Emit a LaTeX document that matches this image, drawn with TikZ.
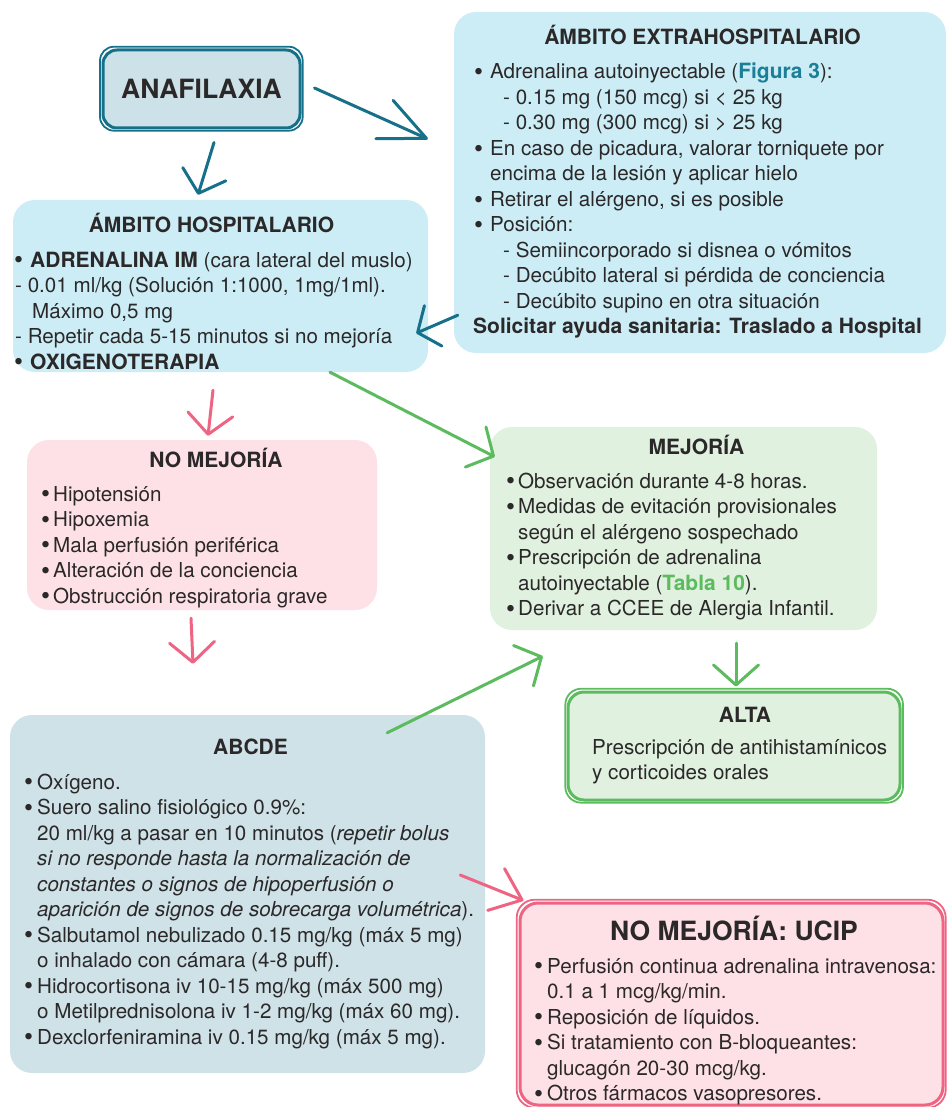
\documentclass[tikz,border=0pt]{standalone}
\usepackage{fontspec}
\usepackage{graphicx}
\setmainfont{TeX Gyre Heros}
\usetikzlibrary{arrows.meta}
\definecolor{tealline}{HTML}{17708A}
\definecolor{tealtext}{HTML}{1B7F97}
\definecolor{anafill}{HTML}{CDE1E8}
\definecolor{cyanfill}{HTML}{CCEDF6}
\definecolor{abcfill}{HTML}{CFE2E8}
\definecolor{pinkline}{HTML}{EE6483}
\definecolor{pinkfill}{HTML}{FDE1E6}
\definecolor{greenline}{HTML}{5CBB5E}
\definecolor{greenfill}{HTML}{E0F1DF}
\definecolor{ink}{HTML}{2B2829}
\newcommand{\mybul}[1]{\makebox[#1][l]{\hspace*{-1pt}\raisebox{-1.8pt}{\scalebox{1.25}{\textbullet}}}}
\newcommand{\myind}[1]{\hspace*{#1}}
\newcommand{\bfx}{\fontsize{21}{25.5}\selectfont\bfseries}
\tikzset{
  blob/.style={rectangle, inner sep=0pt, rounded corners=22pt},
  txt/.style={anchor=base west, inner sep=0pt, text=ink, font=\fontsize{20.6}{25.5}\selectfont},
  tit/.style={anchor=base, inner sep=0pt, text=ink, font=\fontsize{21}{24}\selectfont\bfseries},
  arr/.style={line width=3pt, line cap=round, -{Straight Barb[length=20pt,width=45pt,line width=3pt,round]}},
}
\begin{document}
\begin{tikzpicture}[x=1pt,y=-1pt]
\useasboundingbox (0,0) rectangle (949,1107);

% ---------- boxes ----------
\node[blob, fill=cyanfill, minimum width=492pt, minimum height=341pt] (extra) at (700,182.5) {};
\node[blob, fill=cyanfill, minimum width=415pt, minimum height=172pt] (hosp) at (220.5,286) {};
\node[blob, fill=pinkfill, minimum width=350pt, minimum height=170pt] (nomej) at (202,525) {};
\node[blob, fill=greenfill, minimum width=387pt, minimum height=203pt] (mej) at (683.5,528.5) {};
\node[blob, fill=abcfill, minimum width=475pt, minimum height=358pt] (abcde) at (247.5,894) {};

\node[rectangle, rounded corners=14pt, draw=tealline, line width=3pt, fill=anafill,
      minimum width=197pt, minimum height=78pt, inner sep=0pt, text=ink,
      font=\fontsize{26.5}{30}\selectfont\bfseries] (ana) at (201.5,89) {ANAFILAXIA};
\draw[tealline, line width=1.8pt, rounded corners=14pt]
  ([shift={(-1.5,-1.8)}]ana.north west) rectangle ([shift={(1.2,1.2)}]ana.south east);

\node[rectangle, rounded corners=16pt, draw=greenline, line width=3pt, fill=greenfill,
      minimum width=332pt, minimum height=108pt, inner sep=0pt] (alta) at (734,746) {};
\draw[greenline, line width=1.8pt, rounded corners=16pt]
  ([shift={(-1.2,-1.8)}]alta.north west) rectangle ([shift={(1.5,1.2)}]alta.south east);

\node[rectangle, rounded corners=18pt, draw=pinkline, line width=3pt, fill=pinkfill,
      minimum width=423pt, minimum height=202pt, inner sep=0pt] (ucip) at (731.5,1004) {};
\draw[pinkline, line width=1.8pt, rounded corners=18pt]
  ([shift={(-1.8,-1.8)}]ucip.north west) rectangle ([shift={(1.2,1.2)}]ucip.south east);

% ---------- texts ----------
\node[tit] (extraT) at (702.5,45) {ÁMBITO EXTRAHOSPITALARIO};
\node[txt] (extraB) at (475,79) {\parbox[t]{470pt}{\raggedright
\mybul{15pt}Adrenalina autoinyectable ({\bfx\color{tealtext}Figura 3}):\\
\myind{28pt}- 0.15 mg (150 mcg) si < 25 kg\\
\myind{28pt}- 0.30 mg (300 mcg) si > 25 kg\\
\mybul{15pt}En caso de picadura, valorar torniquete por\\
\myind{15pt}encima de la lesión y aplicar hielo\\
\mybul{15pt}Retirar el alérgeno, si es posible\\
\mybul{15pt}Posición:\\
\myind{28pt}- Semiincorporado si disnea o vómitos\\
\myind{28pt}- Decúbito lateral si pérdida de conciencia\\
\myind{28pt}- Decúbito supino en otra situación\\
\myind{-2pt}{\bfx Solicitar ayuda sanitaria: Traslado a Hospital}}};

\node[tit] (hospT) at (211.5,233) {ÁMBITO HOSPITALARIO};
\node[txt] (hospB) at (15,267) {\parbox[t]{410pt}{\raggedright
\mybul{15pt}{\bfx ADRENALINA IM} (cara lateral del muslo)\\
- 0.01 ml/kg (Solución 1:1000, 1mg/1ml).\\
\myind{17pt}Máximo 0,5 mg\\
- Repetir cada 5-15 minutos si no mejoría\\
\mybul{15pt}{\bfx OXIGENOTERAPIA}}};

\node[tit] (nomejT) at (216,467) {NO MEJORÍA};
\node[txt] (nomejB) at (42,501) {\parbox[t]{330pt}{\raggedright
\mybul{11pt}Hipotensión\\
\mybul{11pt}Hipoxemia\\
\mybul{11pt}Mala perfusión periférica\\
\mybul{11pt}Alteración de la conciencia\\
\mybul{11pt}Obstrucción respiratoria grave}};

\node[tit] (mejT) at (696.5,454) {MEJORÍA};
\node[txt] (mejB) at (507,488) {\parbox[t]{370pt}{\raggedright
\mybul{11pt}Observación durante 4-8 horas.\\
\mybul{11pt}Medidas de evitación provisionales\\
\myind{11pt}según el alérgeno sospechado\\
\mybul{11pt}Prescripción de adrenalina\\
\myind{11pt}autoinyectable ({\bfx\color{greenline}Tabla 10}).\\
\mybul{11pt}Derivar a CCEE de Alergia Infantil.}};

\node[tit] (altaT) at (745,722) {ALTA};
\node[txt] (altaB) at (592,754) {\parbox[t]{310pt}{\raggedright
Prescripción de antihistamínicos\\
y corticoides orales}};

\node[tit] (abcdeT) at (250.5,754) {ABCDE};
\node[txt] (abcdeB) at (25,789) {\parbox[t]{460pt}{\raggedright
\mybul{12pt}Oxígeno.\\
\mybul{12pt}Suero salino fisiológico 0.9\%:\\
\myind{12pt}20 ml/kg a pasar en 10 minutos (\textit{repetir bolus}\\
\myind{12pt}\textit{si no responde hasta la normalización de}\\
\myind{12pt}\textit{constantes o signos de hipoperfusión o}\\
\myind{12pt}\textit{aparición de signos de sobrecarga volumétrica}).\\
\mybul{12pt}Salbutamol nebulizado 0.15 mg/kg (máx 5 mg)\\
\myind{12pt}o inhalado con cámara (4-8 puff).\\
\mybul{12pt}Hidrocortisona iv 10-15 mg/kg (máx 500 mg)\\
\myind{12pt}o Metilprednisolona iv 1-2 mg/kg (máx 60 mg).\\
\mybul{12pt}Dexclorfeniramina iv 0.15 mg/kg (máx 5 mg).}};

\node[tit, font=\fontsize{26.5}{30}\selectfont\bfseries] (ucipT) at (734,940) {NO MEJORÍA: UCIP};
\node[txt] (ucipB) at (535,973) {\parbox[t]{405pt}{\raggedright
\mybul{12pt}Perfusión continua adrenalina intravenosa:\\
\myind{12pt}0.1 a 1 mcg/kg/min.\\
\mybul{12pt}Reposición de líquidos.\\
\mybul{12pt}Si tratamiento con B-bloqueantes:\\
\myind{12pt}glucagón 20-30 mcg/kg.\\
\mybul{12pt}Otros fármacos vasopresores.}};

% ---------- arrows ----------
\draw[arr, tealline, -{Straight Barb[length=46pt,width=42pt,line width=3pt,round]}]
  ([shift={(13,-1)}]ana.east) -- ([shift={(-26,-43.5)}]extra.west);
\draw[arr, tealline] ([shift={(12.5,13)}]ana.south) -- ([shift={(-22.5,-5)}]hosp.north);
\draw[arr, tealline, -{Straight Barb[length=17pt,width=44pt,line width=3pt,round]}]
  ([shift={(4,-38)}]extra.south west) -- ([shift={(-12,-39)}]hosp.south east);
\draw[arr, greenline] ([shift={(109.5,0)}]hosp.south) -- ([shift={(5,30)}]mej.north west);
\draw[arr, pinkline] ([shift={(-7.5,18)}]hosp.south) -- ([shift={(6,-4)}]nomej.north);
\draw[arr, pinkline] ([shift={(-11,8)}]nomej.south) -- ([shift={(-54.5,-51)}]abcde.north);
\draw[arr, greenline] ([shift={(52.5,13)}]mej.south) -- ([shift={(2,-4)}]alta.north);
\draw[arr, greenline] ([shift={(-98,18)}]abcde.north east) -- ([shift={(53,26)}]mej.south west);
\draw[arr, pinkline, -{Straight Barb[length=28pt,width=45pt,line width=3pt,round]}]
  ([shift={(-25,-19)}]abcde.east) -- ([shift={(5,-1)}]ucip.north west);
\end{tikzpicture}
\end{document}
